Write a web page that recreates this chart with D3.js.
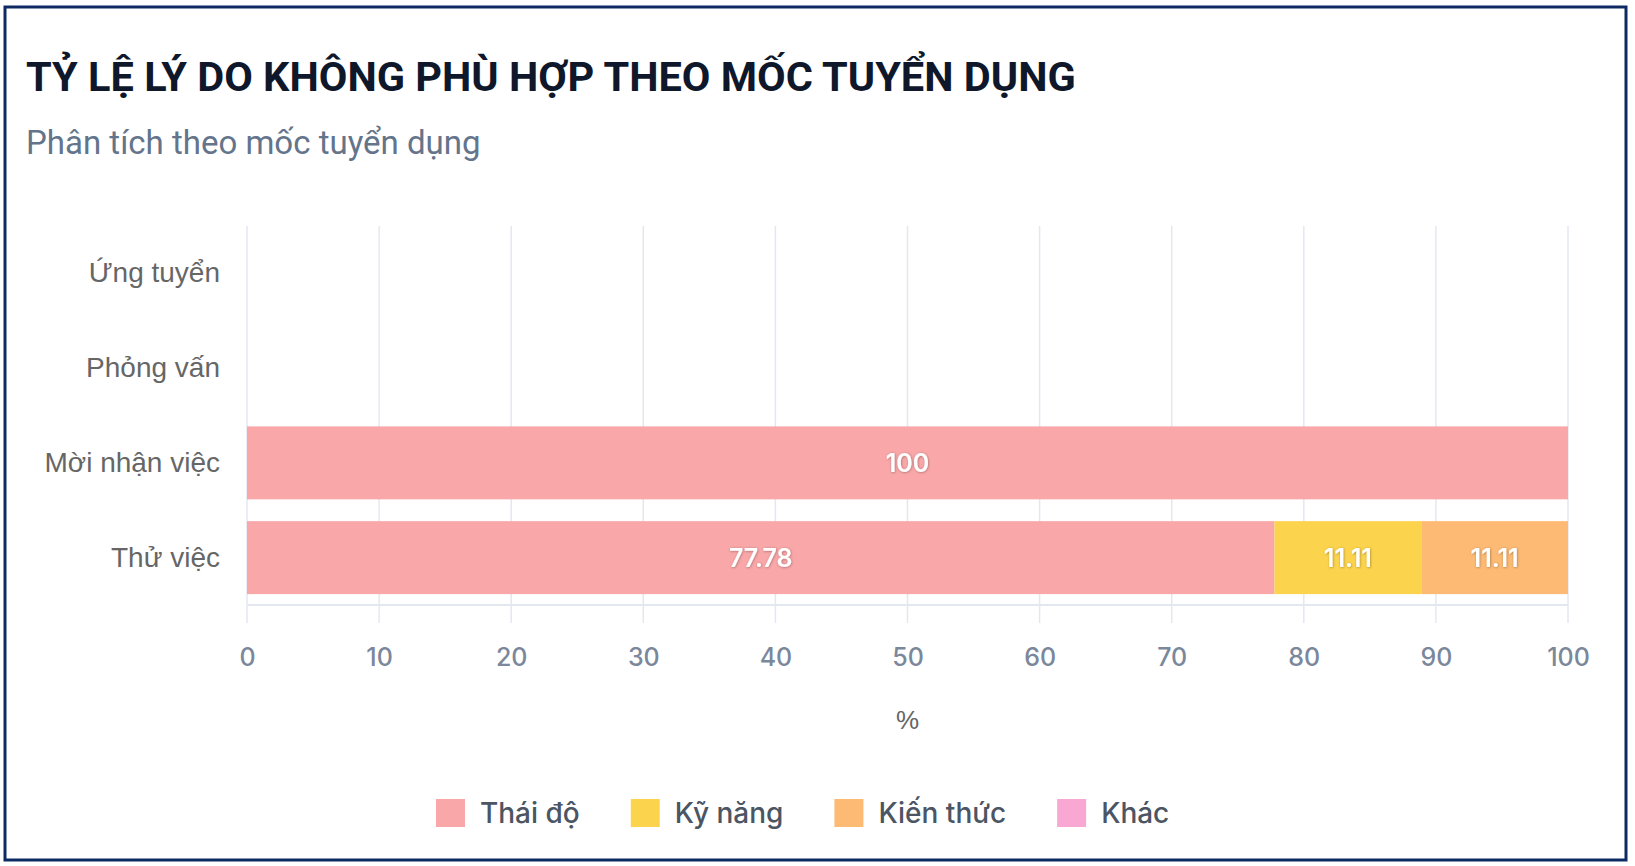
<!DOCTYPE html>
<html>
<head>
<meta charset="utf-8">
<script src="https://cdn.jsdelivr.net/npm/d3@7"></script>
<style>
  html, body { margin: 0; padding: 0; background: #fff; }
  svg { display: block; }
</style>
</head>
<body>
<div id="chart"></div>
<script>
// data
var stages = ['Ứng tuyển', 'Phỏng vấn', 'Mời nhận việc', 'Thử việc'];
var reasons = ['Thái độ', 'Kỹ năng', 'Kiến thức', 'Khác'];
var thaiDo = [0, 0, 100, 77.78];
var kyNang = [0, 0, 0, 11.11];
var kienThuc = [0, 0, 0, 11.11];
var khac = [0, 0, 0, 0];
var reasonColors = ['#f9a7a8', '#fcd34d', '#fdba74', '#f9a8d4'];

var width = 1635, height = 866;
var margin = {left: 247, right: 67, top: 226, bottom: 261};

var svg = d3.select('#chart').append('svg')
  .attr('width', width)
  .attr('height', height);

var defs = svg.append('defs');
defs.append('filter').attr('id', 'lblShadow')
  .attr('x', '-20%').attr('y', '-20%').attr('width', '140%').attr('height', '140%')
  .append('feDropShadow')
  .attr('dx', 0.5).attr('dy', 0.5).attr('stdDeviation', 1.2)
  .attr('flood-color', '#000').attr('flood-opacity', 0.35);

// outer frame
svg.append('rect')
  .attr('x', 5).attr('y', 7)
  .attr('width', 1621).attr('height', 853)
  .attr('fill', '#fff')
  .attr('stroke', '#0d2a63')
  .attr('stroke-width', 3);

// title + subtitle
svg.append('text')
  .attr('x', 26).attr('y', 91)
  .attr('font-family', 'Roboto, sans-serif')
  .attr('font-weight', 700)
  .attr('font-size', 41.5)
  .attr('fill', '#0f172a')
  .text('TỶ LỆ LÝ DO KHÔNG PHÙ HỢP THEO MỐC TUYỂN DỤNG');

svg.append('text')
  .attr('x', 26).attr('y', 154)
  .attr('font-family', 'Roboto, sans-serif')
  .attr('font-size', 33)
  .attr('fill', '#64748b')
  .text('Phân tích theo mốc tuyển dụng');

var x = d3.scaleLinear()
  .domain([0, 100])
  .range([margin.left, width - margin.right]);

var y = d3.scaleBand()
  .domain(stages)
  .range([margin.top, height - margin.bottom])
  .paddingInner(0.23)
  .paddingOuter(0.115);

var plotBottom = height - margin.bottom;

// grid
var grid = svg.append('g').attr('class', 'grid');
grid.selectAll('line')
  .data(x.ticks(10))
  .enter().append('line')
  .attr('x1', function(d) { return x(d); })
  .attr('x2', function(d) { return x(d); })
  .attr('y1', margin.top)
  .attr('y2', plotBottom + 18)
  .attr('stroke', '#e3e8f0')
  .attr('stroke-width', 1.5);

grid.append('line')
  .attr('x1', x(0)).attr('x2', x(100))
  .attr('y1', plotBottom).attr('y2', plotBottom)
  .attr('stroke', '#e3e8f0')
  .attr('stroke-width', 2);

// stacked bars
var rows = stages.map(function(s, i) {
  return {stage: s, 'Thái độ': thaiDo[i], 'Kỹ năng': kyNang[i], 'Kiến thức': kienThuc[i], 'Khác': khac[i]};
});
var stacked = d3.stack().keys(reasons)(rows);

var layers = svg.append('g').selectAll('g')
  .data(stacked)
  .enter().append('g')
  .attr('fill', function(d, i) { return reasonColors[i]; });

layers.selectAll('rect')
  .data(function(d) { return d.filter(function(p) { return p[1] - p[0] > 0; }); })
  .enter().append('rect')
  .attr('x', function(d) { return x(d[0]); })
  .attr('width', function(d) { return x(d[1]) - x(d[0]); })
  .attr('y', function(d) { return y(d.data.stage); })
  .attr('height', y.bandwidth());

layers.selectAll('text')
  .data(function(d) { return d.filter(function(p) { return p[1] - p[0] > 0; }); })
  .enter().append('text')
  .attr('x', function(d) { return (x(d[0]) + x(d[1])) / 2; })
  .attr('y', function(d) { return y(d.data.stage) + y.bandwidth() / 2; })
  .attr('dy', '0.36em')
  .attr('text-anchor', 'middle')
  .attr('font-family', 'Inter, sans-serif')
  .attr('font-weight', 600)
  .attr('font-size', 25)
  .attr('fill', '#fff')
  .attr('filter', 'url(#lblShadow)')
  .text(function(d) { return d3.format('~r')(+(d[1] - d[0]).toFixed(2)); });

// y labels
var yAxis = svg.append('g')
  .attr('transform', 'translate(' + (margin.left - 27) + ',0)')
  .call(d3.axisLeft(y).tickSize(0).tickPadding(0));
yAxis.select('.domain').remove();
yAxis.selectAll('text')
  .attr('font-family', 'Arial, "Liberation Sans", sans-serif')
  .attr('font-size', 28)
  .attr('fill', '#666');

// x axis
var xAxis = svg.append('g')
  .attr('transform', 'translate(0,' + (plotBottom + 18) + ')')
  .call(d3.axisBottom(x).ticks(10).tickSize(0).tickPadding(0));
xAxis.select('.domain').remove();
xAxis.selectAll('text')
  .attr('y', 34)
  .attr('dy', '0.36em')
  .attr('font-family', 'Inter, sans-serif')
  .attr('font-weight', 500)
  .attr('font-size', 25)
  .attr('fill', '#7b879b');

svg.append('text')
  .attr('x', x(50)).attr('y', 720)
  .attr('dy', '0.36em')
  .attr('text-anchor', 'middle')
  .attr('font-family', 'Arial, "Liberation Sans", sans-serif')
  .attr('font-size', 26)
  .attr('fill', '#666')
  .text('%');

// legend
var legend = svg.append('g').attr('transform', 'translate(436,813)');
var lx = 0;
reasons.forEach(function(r, i) {
  var item = legend.append('g').attr('transform', 'translate(' + lx + ',0)');
  item.append('rect')
    .attr('x', 0).attr('y', -14)
    .attr('width', 29).attr('height', 28)
    .attr('fill', reasonColors[i]);
  var t = item.append('text')
    .attr('x', 44).attr('dy', '0.36em')
    .attr('font-family', 'Inter, sans-serif')
    .attr('font-weight', 500)
    .attr('font-size', 28)
    .attr('fill', '#4b5563')
    .text(r);
  lx += 44 + t.node().getComputedTextLength() + 51;
});
</script>
</body>
</html>
